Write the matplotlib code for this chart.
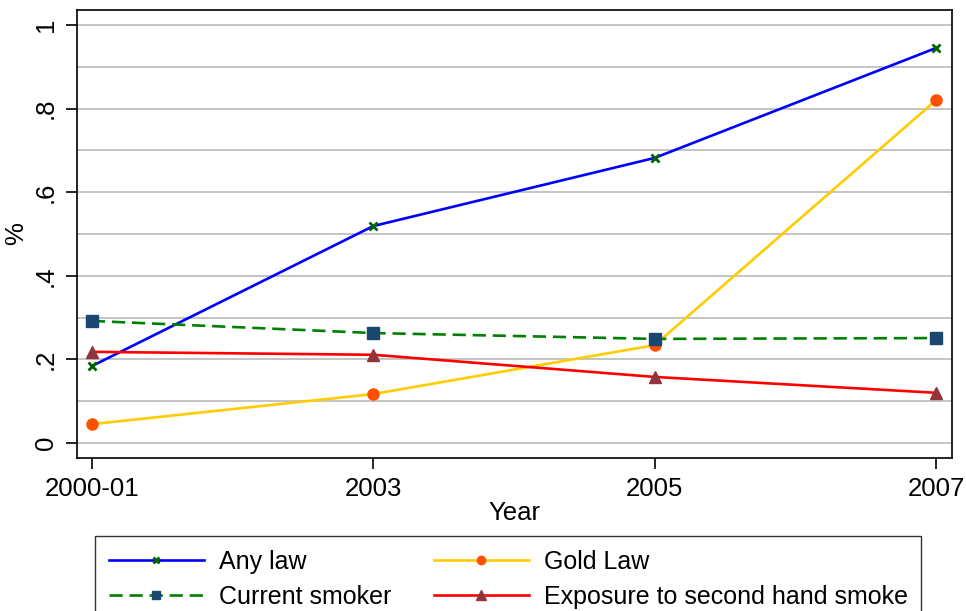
import matplotlib
matplotlib.use("Agg")
import matplotlib.pyplot as plt

years = ["2000-01", "2003", "2005", "2007"]
any_law = [0.184, 0.519, 0.682, 0.945]
gold_law = [0.045, 0.117, 0.234, 0.820]
current_smoker = [0.292, 0.263, 0.249, 0.251]
exposure = [0.218, 0.211, 0.158, 0.120]

yticks = [0, 0.2, 0.4, 0.6, 0.8, 1.0]
ytick_labels = ["0", ".2", ".4", ".6", ".8", "1"]

plt.rcParams['font.family'] = ['Liberation Sans', 'DejaVu Sans']

fig = plt.figure(figsize=(9.66, 6.11), dpi=100)
ax = fig.add_axes([77/966, 1-458/611, (952-77)/966, (458-10)/611])

x = list(range(len(years)))
l1, = ax.plot(x, any_law, color='#0000FF', lw=1.9, marker='x', ms=6, mew=2,
              mec='#006400', mfc='#006400', label='Any law', zorder=3)
l2, = ax.plot(x, gold_law, color='#FFCC00', lw=1.9, marker='o', ms=8,
              mec='#FF5000', mfc='#FF5000', label='Gold Law', zorder=3)
l3, = ax.plot(x, current_smoker, color='#008000', lw=1.9, dashes=(5, 2.6), marker='s', ms=8,
              mec='#1A476F', mfc='#1A476F', label='Current smoker', zorder=3)
l4, = ax.plot(x, exposure, color='#FF0000', lw=1.9, marker='^', ms=9,
              mec='#90353B', mfc='#90353B', label='Exposure to second hand smoke', zorder=3)

ax.set_xlim(-0.053, 3.057)
ax.set_ylim(-0.036, 1.036)
ax.set_xticks(x)
ax.set_xticklabels(years, fontsize=18.5)
ax.set_yticks(yticks)
ax.set_yticklabels(ytick_labels, fontsize=18.5, rotation=90, va='center')
ax.set_yticks([i / 10 for i in range(11)], minor=True)
ax.grid(axis='y', which='both', color='#C4C4C4', lw=1.4)
ax.tick_params(axis='y', which='minor', length=0)
ax.tick_params(which='major', length=8, width=1.2, direction='out', pad=6)
ax.set_axisbelow(True)
for s in ax.spines.values():
    s.set_linewidth(1.2)

ax.set_xlabel("Year", fontsize=18.5, labelpad=0)
ax.set_ylabel("%", fontsize=18.5, labelpad=4)

# row-wise order like the original: Any law, Gold Law / Current smoker, Exposure
leg = ax.legend([l1, l3, l2, l4], [l.get_label() for l in (l1, l3, l2, l4)],
                loc='upper left', bbox_to_anchor=(95/966, 1-536/611),
                bbox_transform=fig.transFigure, ncol=2, fontsize=18,
                frameon=True, fancybox=False, edgecolor='black', borderaxespad=0,
                handlelength=3.8, handletextpad=0.6, columnspacing=1.7,
                borderpad=0.55, labelspacing=0.45, numpoints=1, markerscale=0.75)
leg.get_frame().set_linewidth(1.0)

fig.savefig("out.png", dpi=100)
